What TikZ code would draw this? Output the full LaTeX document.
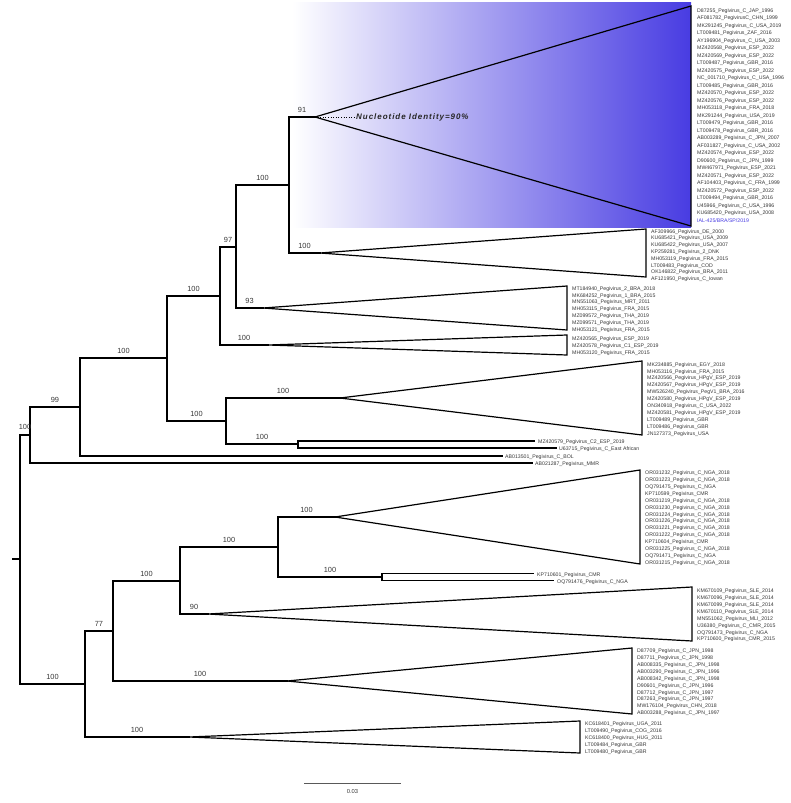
\documentclass[tikz,border=0pt]{standalone}
\usepackage{fontspec}
\setmainfont{Liberation Sans}
\newfontfamily\nidfont[LetterSpace=12]{Liberation Sans}
\definecolor{hl}{RGB}{72,60,226}
\definecolor{lbl}{RGB}{55,55,55}
\begin{document}
\begin{tikzpicture}[x=1pt,y=-1pt,
  br/.style={line width=1.2pt,line cap=rect},
  tri/.style={line width=1.2pt,line join=miter},
  tip/.style={anchor=mid west,inner sep=0pt,font=\fontsize{5.2}{6}\selectfont,text=lbl},
  bs/.style={anchor=base,inner sep=0pt,font=\fontsize{7.4}{8}\selectfont,text=lbl}]
\useasboundingbox (0,0) rectangle (791,803);
\shade[left color=white,right color=hl] (292,2) rectangle (691,227.5);

% internal nodes
\coordinate (rs) at (13,559);
\coordinate (root) at (20,559);
\coordinate (n1) at (30,435);
\coordinate (n99) at (80,407);
\coordinate (n167) at (167,358);
\coordinate (n220) at (220,296);
\coordinate (n236) at (236,247);
\coordinate (n289) at (289,185);
\coordinate (n226) at (226,421);
\coordinate (n298) at (298,444);
\coordinate (n85) at (85,684);
\coordinate (n113) at (113,631);
\coordinate (n180) at (180,581);
\coordinate (n278) at (278,547);
\coordinate (n382) at (382,577);
% triangle tips and leaf ends
\coordinate (tTop) at (315,117);
\coordinate (tAF) at (320,253);
\coordinate (tMT) at (263,308);
\coordinate (tMZ) at (268,345);
\coordinate (tMK) at (340,398);
\coordinate (tOR) at (335,517);
\coordinate (tKM) at (208,614);
\coordinate (tD) at (287,681);
\coordinate (tKC) at (189,737);
\coordinate (lBOL) at (502,456);
\coordinate (lMMR) at (532,463);
\coordinate (lC2) at (534,441);
\coordinate (lEA) at (556,448);
\coordinate (lKP) at (533,573.5);
\coordinate (lOQ) at (553,580.5);

% branches
\draw[br] (rs) -- (root);
\draw[br] (root) |- (n1);
\draw[br] (root) |- (n85);
\draw[br] (n1) |- (n99);
\draw[br] (n1) |- (lMMR);
\draw[br] (n99) |- (n167);
\draw[br] (n99) |- (lBOL);
\draw[br] (n167) |- (n220);
\draw[br] (n167) |- (n226);
\draw[br] (n220) |- (n236);
\draw[br] (n220) |- (tMZ);
\draw[br] (n236) |- (n289);
\draw[br] (n236) |- (tMT);
\draw[br] (n289) |- (tTop);
\draw[br] (n289) |- (tAF);
\draw[br] (n226) |- (tMK);
\draw[br] (n226) |- (n298);
\draw[br] (n298) |- (lC2);
\draw[br] (n298) |- (lEA);
\draw[br] (n85) |- (n113);
\draw[br] (n85) |- (tKC);
\draw[br] (n113) |- (n180);
\draw[br] (n113) |- (tD);
\draw[br] (n180) |- (n278);
\draw[br] (n180) |- (tKM);
\draw[br] (n278) |- (tOR);
\draw[br] (n278) |- (n382);
\draw[br] (n382) |- (lKP);
\draw[br] (n382) |- (lOQ);

% collapsed clades
\draw[tri] (tTop) -- (691,6) -- (691,226) -- cycle;
\draw[tri] (tAF) -- (646,229) -- (646,277) -- cycle;
\draw[tri] (tMT) -- (567,286) -- (567,330) -- cycle;
\draw[tri] (tMZ) -- (567,335) -- (567,355) -- cycle;
\draw[tri] (tMK) -- (642,361) -- (642,435) -- cycle;
\draw[tri] (tOR) -- (640,470) -- (640,564) -- cycle;
\draw[tri] (tKM) -- (692,587) -- (692,641) -- cycle;
\draw[tri] (tD) -- (632,648) -- (632,714) -- cycle;
\draw[tri] (tKC) -- (580,721) -- (580,753) -- cycle;

% identity annotation
\coordinate (nidend) at (356,117);
\draw[dotted,line width=0.6pt] (tTop) -- (nidend);
\node[anchor=mid west,inner sep=0pt,font=\nidfont\fontsize{8}{9}\selectfont\bfseries\itshape,text=black!85] (nid) at (nidend) {Nucleotide Identity=90\%};

% bootstrap values
\node[bs] (b1) at (25,429.5) {100};
\node[bs] (b2) at (55,402.5) {99};
\node[bs] (b3) at (123.5,353.5) {100};
\node[bs] (b4) at (193.5,291.5) {100};
\node[bs] (b5) at (228,242.5) {97};
\node[bs] (b6) at (262.5,180.5) {100};
\node[bs] (b7) at (302,112.5) {91};
\node[bs] (b8) at (304.5,248.5) {100};
\node[bs] (b9) at (249.5,303.5) {93};
\node[bs] (b10) at (244,340.5) {100};
\node[bs] (b11) at (196.5,416.5) {100};
\node[bs] (b12) at (283,393.5) {100};
\node[bs] (b13) at (262,439.5) {100};
\node[bs] (b14) at (52.5,679.5) {100};
\node[bs] (b15) at (99,626.5) {77};
\node[bs] (b16) at (137,732.5) {100};
\node[bs] (b17) at (146.5,576.5) {100};
\node[bs] (b18) at (200,676.5) {100};
\node[bs] (b19) at (229,542.5) {100};
\node[bs] (b20) at (194,609.5) {90};
\node[bs] (b21) at (306.5,512.5) {100};
\node[bs] (b22) at (330,572.5) {100};

% tip labels
\foreach \t [count=\i from 0] in {D87255\_Pegivirus\_C\_JAP\_1996,AF081782\_PegivirusC\_CHN\_1999,MK291245\_Pegivirus\_C\_USA\_2019,LT009481\_Pegivirus\_ZAF\_2016,AY196904\_Pegivirus\_C\_USA\_2003,MZ420568\_Pegivirus\_ESP\_2022,MZ420569\_Pegivirus\_ESP\_2022,LT009487\_Pegivirus\_GBR\_2016,MZ420575\_Pegivirus\_ESP\_2022,NC\_001710\_Pegivirus\_C\_USA\_1996,LT009485\_Pegivirus\_GBR\_2016,MZ420570\_Pegivirus\_ESP\_2022,MZ420576\_Pegivirus\_ESP\_2022,MH053118\_Pegivirus\_FRA\_2018,MK291244\_Pegivirus\_USA\_2019,LT009479\_Pegivirus\_GBR\_2016,LT009478\_Pegivirus\_GBR\_2016,AB003289\_Pegivirus\_C\_JPN\_2007,AF031827\_Pegivirus\_C\_USA\_2002,MZ420574\_Pegivirus\_ESP\_2022,D90600\_Pegivirus\_C\_JPN\_1999,MW467971\_Pegivirus\_ESP\_2021,MZ420571\_Pegivirus\_ESP\_2022,AF104403\_Pegivirus\_C\_FRA\_1999,MZ420572\_Pegivirus\_ESP\_2022,LT009494\_Pegivirus\_GBR\_2016,U45966\_Pegivirus\_C\_USA\_1996,KU685420\_Pegivirus\_USA\_2008}
  \node[tip] (top\i) at (697,{9.5+\i*7.5}) {\t};
\node[tip,text=hl] (ial) at (697,{9.5+28*7.5}) {IAL-425/BRA/SP/2019};

\foreach \t [count=\i from 0] in {AF309966\_Pegivirus\_DE\_2000,KU685421\_Pegivirus\_USA\_2009,KU685422\_Pegivirus\_USA\_2007,KP259281\_Pegivirus\_2\_DNK,MH053119\_Pegivirus\_FRA\_2015,LT009483\_Pegivirus\_COD,OK146822\_Pegivirus\_BRA\_2011,AF121950\_Pegivirus\_C\_Iowan}
  \node[tip] (af\i) at (651,{230.5+\i*6.8}) {\t};

\foreach \t [count=\i from 0] in {MT184940\_Pegivirus\_2\_BRA\_2018,MK684252\_Pegivirus\_1\_BRA\_2015,MN551063\_Pegivirus\_MRT\_2011,MH053115\_Pegivirus\_FRA\_2015,MZ099572\_Pegivirus\_THA\_2019,MZ099571\_Pegivirus\_THA\_2019,MH053121\_Pegivirus\_FRA\_2015}
  \node[tip] (mt\i) at (572,{287.5+\i*6.9}) {\t};

\foreach \t [count=\i from 0] in {MZ420565\_Pegivirus\_ESP\_2019,MZ420578\_Pegivirus\_C1\_ESP\_2019,MH053120\_Pegivirus\_FRA\_2015}
  \node[tip] (mz\i) at (572,{338+\i*7}) {\t};

\foreach \t [count=\i from 0] in {MK234885\_Pegivirus\_EGY\_2018,MH053116\_Pegivirus\_FRA\_2015,MZ420566\_Pegivirus\_HPgV\_ESP\_2019,MZ420567\_Pegivirus\_HPgV\_ESP\_2019,MW526240\_Pegivirus\_PegV1\_BRA\_2016,MZ420580\_Pegivirus\_HPgV\_ESP\_2019,ON340918\_Pegivirus\_C\_USA\_2022,MZ420581\_Pegivirus\_HPgV\_ESP\_2019,LT009489\_Pegivirus\_GBR,LT009486\_Pegivirus\_GBR,JN127373\_Pegivirus\_USA}
  \node[tip] (mk\i) at (647,{363.5+\i*6.9}) {\t};

\node[tip] (c2) at (538,441) {MZ420579\_Pegivirus\_C2\_ESP\_2019};
\node[tip] (ea) at (559,448) {U63715\_Pegivirus\_C\_East African};
\node[tip] (bol) at (505,456) {AB013501\_Pegivirus\_C\_BOL};
\node[tip] (mmr) at (535,463) {AB021287\_Pegivirus\_MMR};

\foreach \t [count=\i from 0] in {OR031232\_Pegivirus\_C\_NGA\_2018,OR031223\_Pegivirus\_C\_NGA\_2018,OQ791475\_Pegivirus\_C\_NGA,KP710599\_Pegivirus\_CMR,OR031219\_Pegivirus\_C\_NGA\_2018,OR031230\_Pegivirus\_C\_NGA\_2018,OR031224\_Pegivirus\_C\_NGA\_2018,OR031226\_Pegivirus\_C\_NGA\_2018,OR031221\_Pegivirus\_C\_NGA\_2018,OR031222\_Pegivirus\_C\_NGA\_2018,KP710604\_Pegivirus\_CMR,OR031225\_Pegivirus\_C\_NGA\_2018,OQ791471\_Pegivirus\_C\_NGA,OR031215\_Pegivirus\_C\_NGA\_2018}
  \node[tip] (or\i) at (645,{472+\i*6.9}) {\t};

\node[tip] (kp) at (537,573.5) {KP710601\_Pegivirus\_CMR};
\node[tip] (oq) at (557,580.5) {OQ791476\_Pegivirus\_C\_NGA};

\foreach \t [count=\i from 0] in {KM670109\_Pegivirus\_SLE\_2014,KM670096\_Pegivirus\_SLE\_2014,KM670099\_Pegivirus\_SLE\_2014,KM670110\_Pegivirus\_SLE\_2014,MN551062\_Pegivirus\_MLI\_2012,U36380\_Pegivirus\_C\_CMR\_2015,OQ791473\_Pegivirus\_C\_NGA,KP710600\_Pegivirus\_CMR\_2015}
  \node[tip] (km\i) at (697,{590+\i*6.9}) {\t};

\foreach \t [count=\i from 0] in {D87709\_Pegivirus\_C\_JPN\_1998,D87711\_Pegivirus\_C\_JPN\_1998,AB008335\_Pegivirus\_C\_JPN\_1998,AB003290\_Pegivirus\_C\_JPN\_1996,AB008342\_Pegivirus\_C\_JPN\_1998,D90601\_Pegivirus\_C\_JPN\_1996,D87712\_Pegivirus\_C\_JPN\_1997,D87263\_Pegivirus\_C\_JPN\_1997,MW176104\_Pegivirus\_CHN\_2018,AB003288\_Pegivirus\_C\_JPN\_1997}
  \node[tip] (d\i) at (637,{650+\i*6.9}) {\t};

\foreach \t [count=\i from 0] in {KC618401\_Pegivirus\_UGA\_2011,LT009490\_Pegivirus\_COG\_2016,KC618400\_Pegivirus\_HUG\_2011,LT009484\_Pegivirus\_GBR,LT009480\_Pegivirus\_GBR}
  \node[tip] (kc\i) at (585,{723+\i*6.9}) {\t};

% scale bar
\coordinate (sbl) at (304,783);
\coordinate (sbr) at (401,783);
\draw[line width=0.7pt,black!65] (sbl) -- (sbr);
\node[tip,anchor=center,font=\fontsize{5.8}{7}\selectfont] (sbt) at (352.5,791) {0.03};
\end{tikzpicture}
\end{document}
